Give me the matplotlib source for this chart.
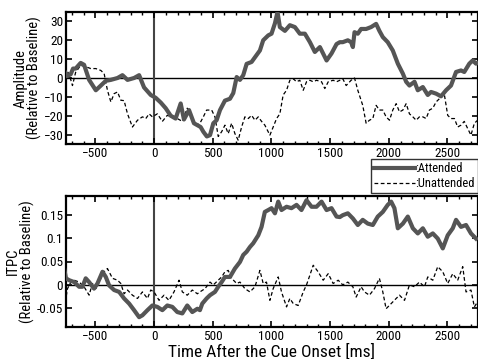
import numpy as np
import matplotlib
matplotlib.use("Agg")
import matplotlib.pyplot as plt
from matplotlib.ticker import MultipleLocator

plt.rcParams['font.family'] = ['Liberation Sans Narrow', 'Roboto Condensed', 'DejaVu Sans', 'Liberation Sans']
plt.rcParams['font.stretch'] = 'condensed'

# amplitude, attended (time ms, value)
amp_att_t = [-766, -740, -710, -690, -668, -625, -596, -553, -496, -453, -411, -368, -311, -269,
             -226, -170, -127, -85, -28, 14, 57, 99, 142, 184, 227, 255, 298, 340, 397, 420,
             450, 477, 505, 533, 562, 604, 647, 675, 704, 732, 760, 789, 831, 860, 902, 930,
             973, 1001, 1030, 1052, 1072, 1115, 1157, 1200, 1242, 1285, 1328, 1370, 1413, 1470,
             1512, 1555, 1583, 1608, 1651, 1679, 1694, 1708, 1736, 1764, 1807, 1849, 1892, 1920,
             1949, 1991, 2034, 2077, 2120, 2148, 2176, 2219, 2247, 2290, 2332, 2360, 2403, 2445,
             2488, 2530, 2573, 2615, 2643, 2686, 2715, 2743, 2757]
amp_att_v = [4, 1, 2, 5, 5, 8, 7, -1, -6.5, -4, -1.5, -1, 0, 1.5,
             -1, 0, 1.5, -5, -9, -10.5, -13, -16, -20, -21.5, -13.5, -22, -17, -24, -26, -28.5,
             -31, -30.3, -24, -22.4, -17, -12, -11, -8, 0.5, -1, 1.5, 7.5, 8.5, 11, 14.6, 20,
             22.6, 23.5, 29, 35, 27, 25, 28, 27, 23.5, 23.5, 19, 13.8, 16.4, 9.3,
             13, 18, 19, 19, 20, 19, 16.4, 24.3, 23.5, 26, 26, 27, 28.7, 25,
             21.7, 19, 14.6, 7.6, 2.3, -2, -4, -2, -6.5, -4.8, -9, -7.4, -8.3, -9.7,
             -6.5, -4, 3.2, 4, 3.2, 7.6, 9.3, 7.6, 8]

# amplitude, unattended
amp_un_t = [-766, -723, -695, -668, -625, -582, -539, -496, -453, -425, -397, -368, -340, -311,
            -283, -255, -226, -184, -141, -99, -70, -42, -14, 28, 71, 113, 156, 198, 241, 283,
            326, 369, 391, 420, 448, 491, 519, 547, 576, 604, 632, 661, 689, 717, 746, 774,
            803, 831, 860, 888, 916, 944, 987, 1015, 1044, 1072, 1100, 1129, 1157, 1186, 1214,
            1242, 1271, 1299, 1328, 1356, 1384, 1427, 1455, 1484, 1526, 1555, 1583, 1608, 1637,
            1679, 1708, 1736, 1778, 1807, 1835, 1864, 1892, 1920, 1949, 1977, 2006, 2034, 2063,
            2091, 2120, 2148, 2176, 2205, 2233, 2261, 2290, 2318, 2346, 2375, 2403, 2431, 2460,
            2474, 2502, 2530, 2559, 2587, 2615, 2643, 2672, 2700, 2729, 2757]
amp_un_v = [6, 2, -4, 3, 6.7, 6, 5, 5, 4, 2.3, -6.5, -12.7, -8.3, -7.4,
            -11.8, -12, -19, -26, -22.4, -20.6, -21.5, -19, -20.6, -19, -23, -19.8, -20.6, -21.5, -23, -16,
            -21.5, -25, -24, -20.6, -17, -17, -20.6, -31, -28.5, -25, -29.5, -24, -29.5, -33, -26, -20.6,
            -21.5, -19.8, -22.4, -20.6, -23, -25, -30.3, -26, -21.5, -19, -9, -6.5, -1.2, -0.4, -2,
            -1.2, -6.5, -2, -1.2, -2, -1.2, -2, -5.6, -2, -1.2, -2, -1.2, -0.4, -4,
            -1.2, 0, -6.5, -14.5, -24, -22.4, -21.5, -14.5, -17, -17, -20.6, -22.4, -17, -13.6,
            -18, -17, -13.6, -19, -20.6, -22.4, -20.6, -20.6, -21.5, -17, -16, -12.7, -11, -8.3,
            -9, -19.8, -21.5, -21.5, -26, -25, -23, -26.8, -30.3, -24, -22.4]

# ITPC, attended
itpc_att_t = [-766, -750, -723, -680, -638, -610, -582, -553, -511, -482, -439, -411, -383, -340,
              -297, -255, -212, -170, -127, -99, -56, -14, 28, 71, 113, 156, 198, 241, 283, 326,
              369, 391, 411, 448, 477, 519, 547, 576, 604, 647, 689, 732, 760, 789, 817, 845,
              888, 916, 944, 973, 1001, 1030, 1058, 1086, 1129, 1171, 1214, 1256, 1299, 1342,
              1384, 1427, 1470, 1512, 1555, 1583, 1608, 1651, 1694, 1736, 1778, 1821, 1864, 1906,
              1949, 1991, 2020, 2048, 2077, 2120, 2162, 2205, 2247, 2290, 2332, 2375, 2417, 2460,
              2502, 2545, 2573, 2615, 2658, 2700, 2743]
itpc_att_v = [0.035, 0.014, 0.010, 0.006, -0.004, -0.004, 0.014, 0.006, -0.008, 0.003, 0.028, 0.017, -0.001, -0.011,
              -0.015, -0.029, -0.04, -0.054, -0.069, -0.065, -0.054, -0.044, -0.047, -0.054, -0.044, -0.047, -0.058, -0.061, -0.044, -0.058,
              -0.051, -0.054, -0.040, -0.029, -0.022, -0.015, -0.004, 0.006, 0.017, 0.017, 0.035, 0.049, 0.064, 0.071, 0.081, 0.089,
              0.106, 0.124, 0.156, 0.16, 0.164, 0.153, 0.178, 0.16, 0.167, 0.164, 0.171, 0.16, 0.181, 0.167,
              0.167, 0.178, 0.16, 0.164, 0.146, 0.145, 0.149, 0.153, 0.142, 0.128, 0.139, 0.131, 0.128, 0.146,
              0.156, 0.171, 0.178, 0.164, 0.121, 0.131, 0.146, 0.121, 0.11, 0.121, 0.103, 0.11, 0.099, 0.078,
              0.106, 0.121, 0.139, 0.124, 0.128, 0.11, 0.099]

# ITPC, unattended
itpc_un_t = [-766, -737, -709, -680, -638, -596, -553, -525, -496, -468, -425, -397, -354, -311,
             -283, -255, -226, -184, -141, -99, -56, -28, 0, 43, 85, 127, 170, 213, 241, 283,
             326, 369, 391, 434, 477, 505, 547, 576, 604, 632, 661, 704, 732, 774, 817, 860,
             902, 930, 958, 987, 1015, 1058, 1086, 1129, 1157, 1186, 1228, 1271, 1299, 1328,
             1356, 1398, 1441, 1484, 1526, 1569, 1608, 1651, 1694, 1722, 1764, 1793, 1835, 1878,
             1920, 1949, 1977, 2020, 2063, 2091, 2134, 2176, 2219, 2261, 2304, 2332, 2375, 2417,
             2460, 2502, 2545, 2587, 2630, 2658, 2700, 2729, 2757]
itpc_un_v = [-0.05, -0.008, 0.006, 0.01, 0.006, -0.004, -0.022, 0.003, -0.008, 0.006, 0.028, 0.035, 0.014, 0.01,
             0.003, -0.019, -0.011, -0.022, -0.029, -0.015, -0.029, -0.011, -0.015, -0.033, -0.022, -0.033, -0.015, 0.01, -0.015, -0.022,
             -0.011, -0.019, -0.015, -0.008, 0.006, 0, 0.01, 0.017, 0.028, 0.031, 0.014, 0.003, 0.006, -0.008, -0.015, -0.004,
             0.031, 0.003, 0.006, -0.033, -0.008, 0.017, -0.015, -0.047, -0.029, -0.04, -0.044, -0.015, 0, 0.021,
             0.042, 0.028, 0.01, 0.024, 0.003, 0.01, 0, 0.006, -0.004, -0.026, -0.004, -0.015, -0.022, -0.008,
             0.014, -0.015, -0.051, -0.04, -0.029, -0.022, -0.033, 0, -0.004, 0.006, -0.004, 0.017, 0.01, 0.039,
             0.028, 0.003, 0.024, 0.01, 0.039, -0.015, -0.011, -0.047, -0.036]

att_col = '#555555'

fig = plt.figure(figsize=(4.78, 3.59), dpi=100)
ax1 = fig.add_axes([66/478, 1-144/359, 412/478, 132/359])
ax2 = fig.add_axes([66/478, 1-327/359, 412/478, 131/359])


def style(ax):
    ax.set_xlim(-750, 2760)
    ax.axhline(0, color='black', lw=1.0, zorder=1)
    ax.axvline(0, color='#444444', lw=1.5, zorder=1)
    ax.xaxis.set_major_locator(MultipleLocator(500))
    ax.xaxis.set_minor_locator(MultipleLocator(100))
    ax.tick_params(which='both', direction='in', top=True, right=True, labelsize=9.5, pad=2)
    ax.tick_params(which='major', length=4, width=1.2)
    ax.tick_params(which='minor', length=2.5, width=1.0)
    ax.tick_params(axis='y', which='minor', left=False, right=False)
    for s in ax.spines.values():
        s.set_linewidth(1.6)


l1, = ax1.plot(amp_att_t, amp_att_v, color=att_col, lw=3.0, zorder=3)
l2, = ax1.plot(amp_un_t, amp_un_v, color='black', lw=0.9, ls=(0, (3, 2)), zorder=2)
style(ax1)
ax1.set_ylim(-35, 35)
ax1.set_yticks([-30, -20, -10, 0, 10, 20, 30])
ax1.set_ylabel('Amplitude\n(Relative to Baseline)', fontsize=10.5, linespacing=0.95)
ax1.yaxis.set_label_coords(-0.058, 0.5)

ax2.plot(itpc_att_t, itpc_att_v, color=att_col, lw=3.0, zorder=3)
ax2.plot(itpc_un_t, itpc_un_v, color='black', lw=0.9, ls=(0, (3, 2)), zorder=2)
style(ax2)
ax2.set_ylim(-0.09, 0.19)
ax2.set_yticks([-0.05, 0, 0.05, 0.1, 0.15])
ax2.set_yticklabels(['-0.05', '0', '0.05', '0.1', '0.15'])
ax2.set_ylabel('ITPC\n(Relative to Baseline)', fontsize=10.5, linespacing=0.95)
ax2.yaxis.set_label_coords(-0.075, 0.5)
ax2.set_xlabel('Time After the Cue Onset [ms]', fontsize=12.5, labelpad=0.5)

leg = fig.legend([l1, l2], [':Attended', ':Unattended'], loc='upper right',
                 bbox_to_anchor=(1.0, 1-159/359), fontsize=9, frameon=True, fancybox=False,
                 edgecolor='black', handlelength=3.3, handletextpad=0.0, borderpad=0.25,
                 labelspacing=0.15, borderaxespad=0)
leg.get_frame().set_linewidth(1.0)

fig.savefig('out.png', dpi=100)
